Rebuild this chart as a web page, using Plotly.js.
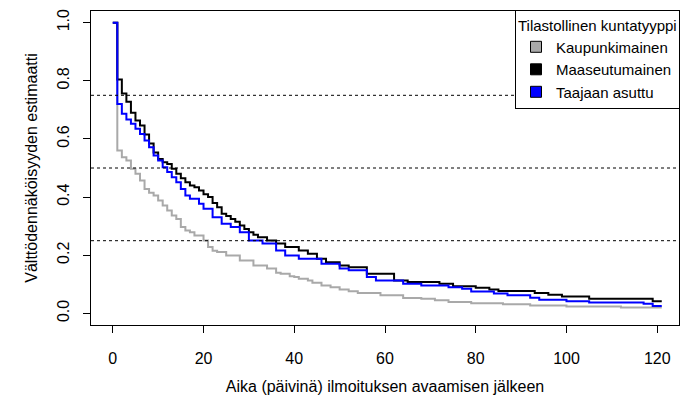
<!DOCTYPE html>
<html>
<head>
<meta charset="utf-8">
<script src="https://cdn.plot.ly/plotly-3.0.1.min.js"></script>
<style>html,body{margin:0;padding:0;background:#fff;}#chart{width:680px;height:407px;}</style>
</head>
<body>
<div id="chart"></div>
<script>
// Kaplan-Meier step data (time in days, survival estimate)
const grayTimes  = [0,1,2,3,4,5,6,7,8,9,10,11,12,13,14,15,16,17,18,20,21,22,23,25,28,31,34,36,37,39,40,41,43,44,46,48,50,52,54,59,64,68,71,74,79,86,92,100,112,121];
const graySurv   = [1.0,0.56,0.537,0.526,0.497,0.48,0.457,0.428,0.415,0.405,0.388,0.371,0.354,0.337,0.325,0.297,0.285,0.279,0.268,0.251,0.228,0.215,0.211,0.199,0.182,0.165,0.154,0.14,0.136,0.128,0.125,0.119,0.113,0.105,0.096,0.09,0.082,0.076,0.07,0.062,0.053,0.05,0.045,0.039,0.035,0.031,0.027,0.024,0.02,0.02];

const blackTimes = [0,1,2,3,4,5,6,7,8,9,10,11,12,13,14,15,16,17,18,19,20,21,22,23,24,25,26,27,28,29,30,31,32,34,36,38,41,43,45,47,50,52,56,62,65,72,75,80,83,85,93,96,99,105,119,121];
const blackSurv  = [1.0,0.804,0.756,0.728,0.69,0.663,0.646,0.615,0.584,0.553,0.531,0.52,0.514,0.497,0.48,0.465,0.451,0.44,0.434,0.423,0.41,0.4,0.38,0.365,0.343,0.335,0.325,0.315,0.302,0.29,0.279,0.27,0.262,0.251,0.24,0.228,0.216,0.205,0.188,0.176,0.165,0.159,0.136,0.113,0.108,0.102,0.093,0.088,0.082,0.077,0.07,0.064,0.058,0.05,0.042,0.042];

const blueTimes  = [0,1,2,3,4,5,6,7,8,9,10,11,12,13,14,15,16,17,19,20,22,24,26,28,30,33,36,38,41,46,50,52,56,58,64,68,74,77,79,84,87,92,94,100,105,117,119,121];
const blueSurv   = [1.0,0.72,0.687,0.667,0.652,0.635,0.617,0.595,0.571,0.543,0.526,0.503,0.486,0.468,0.451,0.428,0.405,0.394,0.377,0.36,0.331,0.308,0.297,0.279,0.251,0.24,0.216,0.199,0.188,0.171,0.154,0.148,0.125,0.113,0.102,0.096,0.09,0.085,0.075,0.068,0.062,0.054,0.047,0.042,0.037,0.033,0.025,0.025];

const seriesNames  = ["Kaupunkimainen","Maaseutumainen","Taajaan asuttu"];
const seriesColors = ["#A9A9A9","#000000","#0000FF"];
const refLines     = [0.25,0.5,0.75];
const xTicks       = [0,20,40,60,80,100,120];
const yTicks       = [0,0.2,0.4,0.6,0.8,1.0];

const curveData = [[grayTimes,graySurv],[blackTimes,blackSurv],[blueTimes,blueSurv]];

const traces = [];
curveData.forEach((d,i)=>{
  traces.push({x:d[0], y:d[1], type:'scatter', mode:'lines', line:{shape:'hv', color:seriesColors[i], width:2}, showlegend:false, hoverinfo:'skip'});
});
seriesNames.forEach((n,i)=>{
  traces.push({x:[null], y:[null], type:'scatter', mode:'markers', name:n,
    marker:{symbol:'square', size:11, color:seriesColors[i], line:{color:'#000', width:1}}});
});

const font = {family:'"Liberation Sans", Arial, sans-serif', size:16, color:'#000'};

const layout = {
  width:680, height:407,
  margin:{l:91, r:0, t:11, b:82, pad:0},
  paper_bgcolor:'#fff', plot_bgcolor:'#fff',
  font: font,
  showlegend:true,
  xaxis:{
    range:[-4.8,124.8], tickvals:xTicks, ticktext:xTicks.map(String),
    ticks:'outside', ticklen:7, tickwidth:1, tickcolor:'#000',
    showline:true, mirror:true, linecolor:'#000', linewidth:1,
    showgrid:false, zeroline:false, ticklabelstandoff:12,
    title:{text:'Aika (päivinä) ilmoituksen avaamisen jälkeen', font:font, standoff:14},
    automargin:false
  },
  yaxis:{
    range:[-0.04,1.04], tickvals:yTicks, ticktext:yTicks.map(v=>v.toFixed(1)),
    tickangle:-90,
    ticks:'outside', ticklen:7, tickwidth:1, tickcolor:'#000',
    showline:true, mirror:true, linecolor:'#000', linewidth:1,
    showgrid:false, zeroline:false, ticklabelstandoff:8,
    title:{text:'Välttödennäköisyyden estimaatti', font:font, standoff:12},
    automargin:false
  },
  shapes: refLines.map(v=>({type:'line', xref:'paper', x0:0, x1:1, yref:'y', y0:v, y1:v,
    line:{color:'#000', width:1, dash:'dot'}, layer:'above'})),
  legend:{
    x:0.7216, y:1.003, xanchor:'left', yanchor:'top',
    bgcolor:'#fff', bordercolor:'#000', borderwidth:1,
    font:{family:font.family, size:15, color:'#000'},
    title:{text:'Tilastollinen kuntatyyppi', font:{family:font.family, size:15, color:'#000'}},
    tracegroupgap:0, itemwidth:30
  }
};

Plotly.newPlot('chart', traces, layout, {staticPlot:true, displayModeBar:false});
</script>
</body>
</html>
